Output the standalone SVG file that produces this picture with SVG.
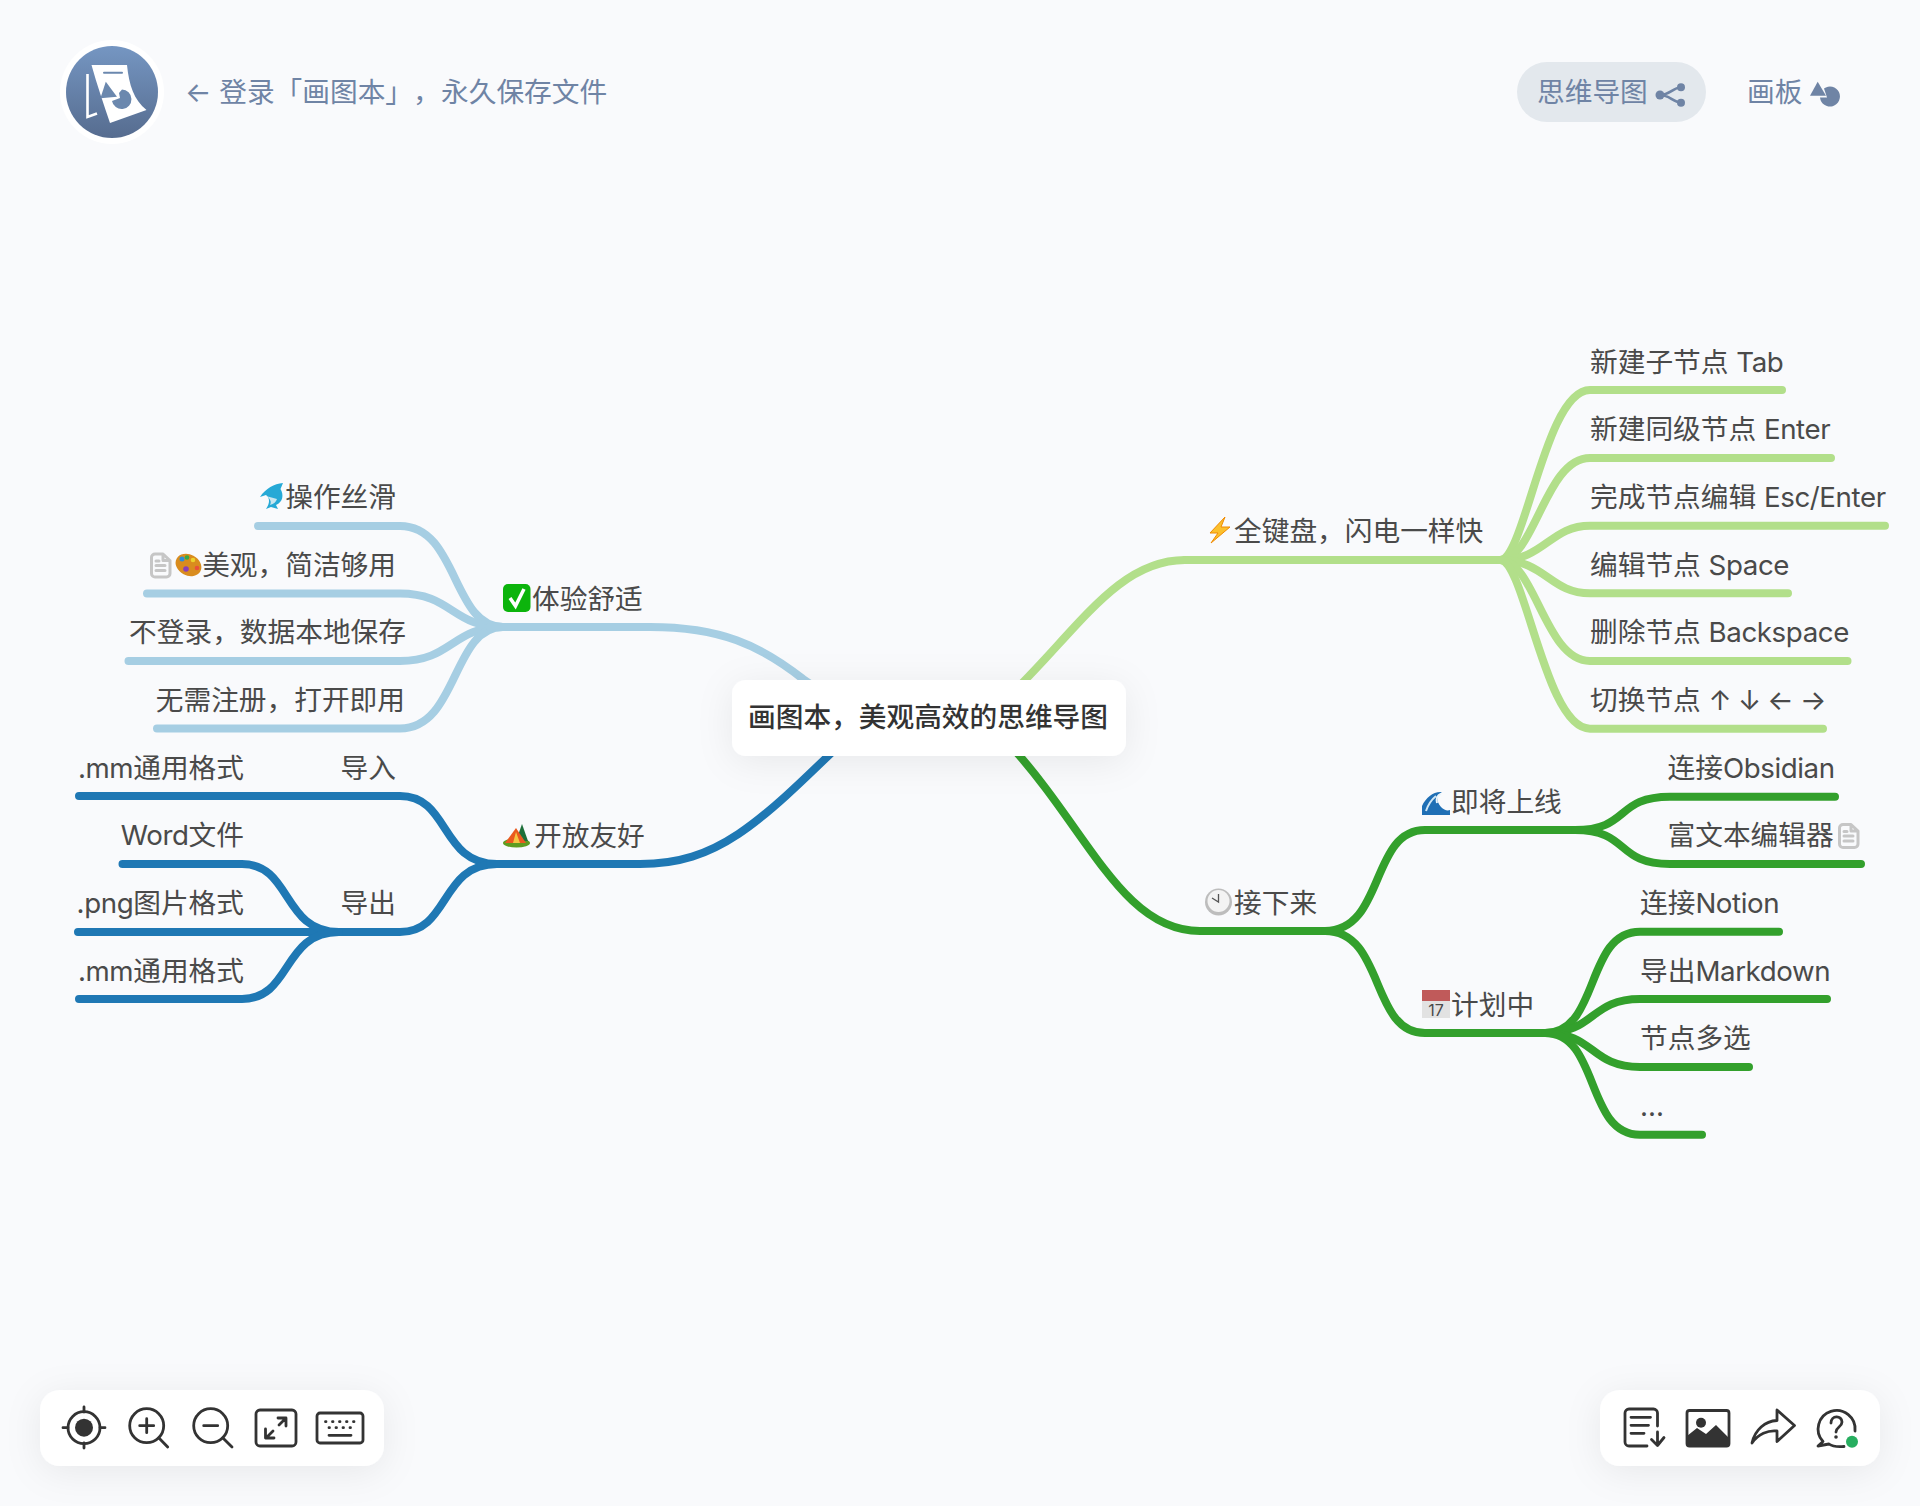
<svg xmlns="http://www.w3.org/2000/svg" width="1920" height="1506" viewBox="0 0 1920 1506">
<style>
text{font-family:Inter,"Noto Sans CJK SC","Noto Sans",sans-serif;font-size:27.7px;fill:#4a4a4a;text-spacing-trim:space-all}
.l{letter-spacing:-.4px}
.e{text-anchor:end}
.root{fill:#333;font-weight:500}
.hd{fill:#6f84a5}
.c{fill:none;stroke-width:8;stroke-linecap:round;stroke-linejoin:round}
.lb{stroke:#a6cee3}.db{stroke:#1f78b4}.lg{stroke:#b2df8a}.dg{stroke:#33a02c}
.i{fill:none;stroke:#333;stroke-width:2.8;stroke-linecap:round;stroke-linejoin:round}
.f{fill:#333}
.note{fill:none;stroke:#c6c6c6;stroke-width:3;stroke-linejoin:round;stroke-linecap:round}
</style>
<defs>
<linearGradient id="lg" x1="0" y1="0" x2="0" y2="1"><stop offset="0" stop-color="#7596c2"/><stop offset="1" stop-color="#566c8f"/></linearGradient>
<filter id="sh" x="-30%" y="-60%" width="160%" height="240%"><feDropShadow dx="0" dy="6" stdDeviation="18" flood-color="#000" flood-opacity=".07"/></filter>
<g id="noteicon"><path class="note" d="M5,1.500H13L20,8V21a3.500,3.500 0 0 1-3.500,3.500H5A3.500,3.500 0 0 1 1.500,21V5A3.500,3.500 0 0 1 5,1.500ZM13,1.500V8H20M6,8.500H9M6,13H15M6,18H15"/></g>
</defs>
<rect id="background" width="1920" height="1506" fill="#f9fafc"/>

<g id="connectors">
<g class="c lb">
<path d="M258,526H400C458,526 452,627 503,627"/>
<path d="M147,593.500H400C452,593.500 452,627 503,627"/>
<path d="M128.500,661H400C452,661 452,627 503,627"/>
<path d="M157,728.500H400C458,728.500 452,627 503,627"/>
<path d="M490,627H650C720,627 760,645 803,679L860,718"/>
</g>
<g class="c db">
<path d="M79,796H400C450,796 440,864 497,864"/>
<path d="M78,932H400C450,932 440,864 497,864"/>
<path d="M122.500,864H242C292,864 282,932 339,932"/>
<path d="M79,999H242C292,999 282,932 339,932"/>
<path d="M490,864H640C722,864 762,820 860,725"/>
</g>
<g class="c lg">
<path d="M1185,560H1508"/>
<path d="M1185,560C1115,560 1075,635 1000,705"/>
<path d="M1500,560C1525,560 1545,390 1590,390H1782"/>
<path d="M1500,560C1535,560 1545,458 1590,458H1831"/>
<path d="M1500,560C1545,560 1550,525.700 1590,525.700H1885"/>
<path d="M1500,560C1545,560 1550,593.300 1590,593.300H1788"/>
<path d="M1500,560C1535,560 1545,661 1590,661H1847.500"/>
<path d="M1500,560C1525,560 1545,728.700 1590,728.700H1823"/>
</g>
<g class="c dg">
<path d="M1340,931H1200C1122,931 1088,830 1010,745"/>
<path d="M1325,931C1385,931 1370,830 1425,830H1590"/>
<path d="M1325,931C1385,931 1370,1033 1425,1033H1560"/>
<path d="M1575,830C1630,830 1615,796.700 1670,796.700H1835"/>
<path d="M1575,830C1630,830 1615,864 1670,864H1861"/>
<path d="M1545,1033C1600,1033 1585,931.700 1640,931.700H1779"/>
<path d="M1545,1033C1595,1033 1590,999 1640,999H1827"/>
<path d="M1545,1033C1595,1033 1590,1067 1640,1067H1749"/>
<path d="M1545,1033C1600,1033 1585,1134.700 1640,1134.700H1702"/>
</g>
</g>

<g id="node-root">
<rect x="732" y="680" width="394" height="76" rx="14" fill="#fff" filter="url(#sh)"/>
<text class="root" x="748" y="727">画图本，美观高效的思维导图</text>
</g>

<g id="node-tiyan">
<rect x="503" y="584" width="27.500" height="28" rx="5" fill="#0cb40c"/>
<path d="M510,598L515.500,606L524,589" fill="none" stroke="#fff" stroke-width="3.500"/>
<text x="532" y="609">体验舒适</text>
</g>
<g id="node-caozuo">
<path d="M260,497C266,488 274,484 283,483L280.500,489C284,495 283,502 276,505L278,509L271,507L266,509C270,503 270,498 266,495Z" fill="#26a9d6"/>
<path d="M266,496C270,498 272,502 270,505C274,504 276,502 277,499Z" fill="#c9e6ef"/>
<text class="e" x="396" y="507">操作丝滑</text>
</g>
<g id="node-meiguan">
<use href="#noteicon" x="150" y="552.500"/>
<ellipse cx="188.500" cy="565" rx="13.500" ry="10.500" fill="#d98c1e" transform="rotate(28 188.500 565)"/>
<circle cx="182" cy="559" r="2.500" fill="#2a8fd8"/><circle cx="187" cy="557.500" r="2.300" fill="#37a847"/><circle cx="193" cy="560" r="2.300" fill="#ecd12c"/><circle cx="197" cy="568" r="2.300" fill="#e8503a"/><circle cx="186" cy="569" r="2.800" fill="#8a3fb6"/>
<text class="e" x="396" y="575">美观，简洁够用</text>
</g>
<g id="node-budenglu"><text class="e" x="406" y="642">不登录，数据本地保存</text></g>
<g id="node-wuxu"><text class="e" x="405" y="710">无需注册，打开即用</text></g>

<g id="node-kaifang">
<ellipse cx="516.500" cy="843" rx="13.500" ry="4.500" fill="#5f9c1f"/>
<path d="M522,824L528,841H516Z" fill="#1d6f3a"/>
<path d="M516,828L526,843H505Z" fill="#ea5a1f"/>
<path d="M516,832L520,843H513Z" fill="#f5c542"/>
<text x="534" y="846">开放友好</text>
</g>
<g id="node-daoru"><text class="e" x="396" y="778">导入</text></g>
<g id="node-daochu"><text class="e" x="396" y="913">导出</text></g>
<g id="node-mm1"><text class="e" x="244" y="778"><tspan class="l">.mm</tspan>通用格式</text></g>
<g id="node-word"><text class="e" x="244" y="845"><tspan class="l">Word</tspan>文件</text></g>
<g id="node-png"><text class="e" x="244" y="913"><tspan class="l">.png</tspan>图片格式</text></g>
<g id="node-mm2"><text class="e" x="244" y="981"><tspan class="l">.mm</tspan>通用格式</text></g>

<g id="node-quanjianpan">
<path d="M1225,517L1210,533H1218L1211,543L1230,527H1221Z" fill="#fbc02d" stroke="#f08a00" stroke-width="1"/>
<text x="1234" y="541">全键盘，闪电一样快</text>
</g>
<g id="node-k1"><text x="1590" y="372">新建子节点 <tspan class="l">Tab</tspan></text></g>
<g id="node-k2"><text x="1590" y="439">新建同级节点 <tspan class="l">Enter</tspan></text></g>
<g id="node-k3"><text x="1590" y="507">完成节点编辑 <tspan class="l">Esc/Enter</tspan></text></g>
<g id="node-k4"><text x="1590" y="575">编辑节点 <tspan class="l">Space</tspan></text></g>
<g id="node-k5"><text x="1590" y="642">删除节点 <tspan class="l">Backspace</tspan></text></g>
<g id="node-k6"><text x="1590" y="710">切换节点 <tspan style="word-spacing:-1.500px">↑ ↓ ← →</tspan></text></g>

<g id="node-jiexialai">
<circle cx="1218.500" cy="902" r="13.500" fill="#bdbdbd"/><circle cx="1218.500" cy="901" r="11" fill="#f3f3f3"/>
<path d="M1218.500,894V902L1212,898" fill="none" stroke="#555" stroke-width="1.300"/>
<text x="1234" y="913">接下来</text>
</g>
<g id="node-jijiang">
<path d="M1422,815V806C1426,797 1434,791 1442,792C1436,795 1436,801 1441,807C1444,810 1447,811 1450,810V815Z" fill="#1f6fb5"/>
<path d="M1436,796C1431,800 1428,805 1426,811" fill="none" stroke="#cfe6f5" stroke-width="2"/>
<path d="M1441,794C1437,795 1436,799 1437,803" fill="none" stroke="#eaf5fb" stroke-width="2"/>
<text x="1451" y="812">即将上线</text>
</g>
<g id="node-jihua">
<rect x="1422" y="1000" width="28" height="18" fill="#e2e2e2"/>
<rect x="1422" y="990" width="28" height="11" fill="#c05a5a"/>
<text x="1436" y="1016" style="font-size:16px;text-anchor:middle">17</text>
<text x="1451" y="1015">计划中</text>
</g>
<g id="node-obsidian"><text x="1667.500" y="778">连接<tspan class="l">Obsidian</tspan></text></g>
<g id="node-fuwenben">
<text x="1667.500" y="845">富文本编辑器</text>
<use href="#noteicon" x="1838" y="823"/>
</g>
<g id="node-notion"><text x="1640" y="913">连接<tspan class="l">Notion</tspan></text></g>
<g id="node-markdown"><text x="1640" y="981">导出<tspan class="l">Markdown</tspan></text></g>
<g id="node-duoxuan"><text x="1640" y="1048">节点多选</text></g>
<g id="node-more"><text x="1640" y="1116">...</text></g>

<g id="header-logo">
<circle cx="112" cy="92" r="52" fill="#fff"/>
<circle cx="112" cy="92" r="46" fill="url(#lg)"/>
<path d="M91.500,65H127C129,85 134,100 146.500,110L110,123C104,105 97,85 91.500,65Z" fill="#fff"/>
<path d="M104,72.700H122" stroke="#6b88ae" stroke-width="2" stroke-linecap="round"/>
<path d="M105.800,81.700L100.400,98.300L117,96.700Z" fill="#6b88ae"/>
<path d="M119,93L122,89.500A9.800,9.800 0 1 1 112,101L120,98Z" fill="#6b88ae"/>
<path d="M87.500,74V117L97,113.500" fill="none" stroke="#fff" stroke-width="2.600"/>
</g>
<g id="header-login"><text class="hd" x="185" y="102">← 登录「画图本」，<tspan x="441">永久保存文件</tspan></text></g>
<g id="tab-mindmap">
<rect x="1517" y="62" width="189" height="60" rx="30" fill="#e3e8ed"/>
<text class="hd" x="1537" y="102">思维导图</text>
<path d="M1681,87.300C1672,88 1670,95 1660,95C1670,95 1672,102 1681,102.700" fill="none" stroke="#6f84a5" stroke-width="2.600"/>
<circle cx="1660" cy="95" r="4.500" fill="#6f84a5"/><circle cx="1681" cy="87.300" r="4" fill="#6f84a5"/><circle cx="1681" cy="102.700" r="4" fill="#6f84a5"/>
</g>
<g id="tab-board">
<text class="hd" x="1747" y="102">画板</text>
<path d="M1817.700,81.700L1810,95.700H1826Z" fill="#6f84a5"/>
<path d="M1824,88.500A10,10 0 1 1 1820,97.500H1827Z" fill="#6f84a5"/>
</g>

<g id="toolbar-left">
<rect x="40" y="1390" width="344" height="76" rx="20" fill="#fff" filter="url(#sh)"/>
<g id="tool-locate"><circle class="i" cx="84" cy="1427.700" r="16"/><circle class="f" cx="84" cy="1427.700" r="9"/><path class="i" d="M84,1407V1412M84,1443V1448M63,1427.700H68M100,1427.700H105"/></g>
<g id="tool-zoomin"><circle class="i" cx="146.700" cy="1425.700" r="17"/><path class="i" d="M158.700,1437.700L167.700,1447M139.700,1425.700H153.700M146.700,1418.700V1432.700"/></g>
<g id="tool-zoomout"><circle class="i" cx="210.700" cy="1425.700" r="17"/><path class="i" d="M222.700,1437.700L232,1447M203.700,1425.700H217.700"/></g>
<g id="tool-full"><rect class="i" x="256" y="1410" width="40" height="36" rx="4"/><path class="i" d="M266.500,1437.500L273,1431M279,1425L285.500,1418.500M278,1418H286V1426M265.500,1429V1438H274"/></g>
<g id="tool-keys"><rect class="i" x="317" y="1413" width="46" height="30" rx="3"/><path class="i" d="M325.500,1421.700H326M332.500,1421.700H333M339.500,1421.700H340M346.500,1421.700H347M353.500,1421.700H354M329,1427.700H329.500M336,1427.700H336.500M343,1427.700H343.500M350,1427.700H350.500M329,1435.300H351"/></g>
</g>

<g id="toolbar-right">
<rect x="1600" y="1390" width="280" height="76" rx="20" fill="#fff" filter="url(#sh)"/>
<g id="tool-export"><path class="i" d="M1657.500,1426V1413a4,4 0 0 0-4-4H1629a4,4 0 0 0-4,4V1442a4,4 0 0 0 4,4H1647M1631,1417.300H1650.500M1631,1425.300H1648.500M1631,1433.300H1644M1657.500,1432V1445.500M1651.500,1439.500L1657.500,1445.500L1664,1437.500"/></g>
<g id="tool-image"><rect class="i" x="1687" y="1410.500" width="42" height="35.500" rx="2.500"/><circle class="f" cx="1701" cy="1422.700" r="5"/><path class="f" d="M1687,1446V1436L1697,1428L1706,1434L1716,1425L1729,1438V1446Z"/></g>
<g id="tool-share"><path class="i" d="M1752,1443C1755,1430 1765,1421 1777,1420.500V1410L1794.500,1425.500L1777,1441.500V1431C1768,1430 1758,1434 1752,1443Z"/></g>
<g id="tool-help">
<path class="i" d="M1855,1431A18.500,18.500 0 1 0 1823,1441.500L1818,1446L1829,1444C1833,1447 1838,1447 1844,1446.500"/>
<path class="i" d="M1831,1423C1831,1415 1842,1415 1842,1422C1842,1427 1836,1427 1836,1432"/><circle class="f" cx="1836" cy="1437" r="1.800"/>
<circle cx="1852" cy="1441.700" r="6" fill="#27ae60"/>
</g>
</g>
</svg>
